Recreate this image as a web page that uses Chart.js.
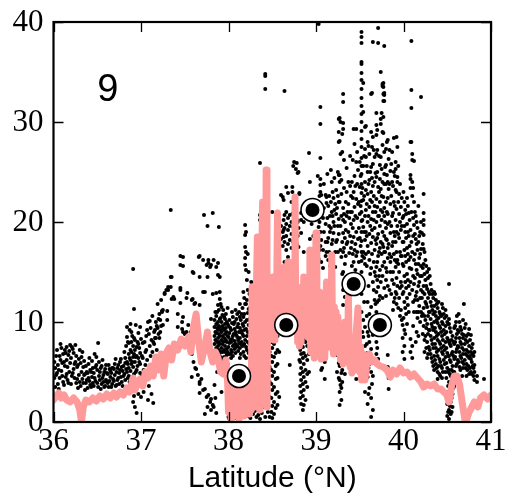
<!DOCTYPE html>
<html>
<head>
<meta charset="utf-8">
<script src="https://cdn.jsdelivr.net/npm/chart.js@4"></script>
<style>
  html, body { margin: 0; padding: 0; background: #fff; }
</style>
</head>
<body>
<canvas id="chart" width="505" height="501"></canvas>
<script>
// axis ticks
const xTicks = [36, 37, 38, 39, 40, 41];
const yTicks = [0, 10, 20, 30, 40];
const panelLabel = "9";

// pink model curve (latitude, value)
const pinkLat = [36.00, 36.03, 36.06, 36.09, 36.12, 36.15, 36.19, 36.23, 36.27, 36.30, 36.32, 36.34, 36.37, 36.41, 36.45, 36.49, 36.53, 36.57, 36.61, 36.65, 36.69, 36.72, 36.76, 36.80, 36.84, 36.87, 36.91, 36.93, 36.96, 36.99, 37.02, 37.05, 37.08, 37.11, 37.14, 37.17, 37.20, 37.23, 37.26, 37.29, 37.32, 37.35, 37.38, 37.42, 37.46, 37.50, 37.54, 37.57, 37.60, 37.63, 37.66, 37.69, 37.72, 37.76, 37.79, 37.82, 37.85, 37.88, 37.91, 37.94, 37.97, 37.99,
  38.00, 38.01, 38.03, 38.04, 38.06, 38.07, 38.09, 38.10, 38.12, 38.13, 38.15, 38.16, 38.18, 38.19, 38.21, 38.22, 38.24, 38.25, 38.26, 38.27, 38.28, 38.29, 38.30, 38.32, 38.33, 38.34, 38.35, 38.36, 38.38, 38.39, 38.40, 38.41, 38.42, 38.43, 38.44,
  38.45, 38.455, 38.46, 38.47, 38.48, 38.49, 38.50, 38.51, 38.52, 38.53, 38.54, 38.55, 38.56, 38.57, 38.58, 38.59, 38.60, 38.61, 38.62, 38.63, 38.64, 38.65, 38.66, 38.67, 38.68, 38.69, 38.70, 38.71, 38.72, 38.73, 38.74, 38.75, 38.76, 38.77, 38.78, 38.79, 38.80, 38.81, 38.82, 38.83, 38.84, 38.85, 38.86, 38.87, 38.88, 38.89, 38.90, 38.91, 38.92, 38.93, 38.94, 38.95, 38.96, 38.97, 38.98, 38.99,
  39.00, 39.01, 39.02, 39.03, 39.04, 39.05, 39.06, 39.07, 39.08, 39.09, 39.10, 39.11, 39.12, 39.13, 39.14, 39.15, 39.16, 39.17, 39.18, 39.19, 39.20, 39.21, 39.22, 39.23, 39.24, 39.25, 39.26, 39.27, 39.28, 39.29, 39.30, 39.31, 39.32, 39.33, 39.34, 39.35, 39.36, 39.37, 39.38, 39.39, 39.40, 39.41, 39.42, 39.43, 39.44, 39.45, 39.46, 39.48, 39.49, 39.50, 39.51, 39.52, 39.54, 39.56, 39.58, 39.61, 39.64, 39.67, 39.70, 39.73, 39.77, 39.81, 39.85, 39.88, 39.92, 39.96,
  40.00, 40.04, 40.08, 40.12, 40.16, 40.20, 40.23, 40.27, 40.31, 40.35, 40.39, 40.43, 40.46, 40.49, 40.52, 40.55, 40.58, 40.61, 40.64, 40.67, 40.70, 40.72, 40.75, 40.78, 40.81, 40.85, 40.88, 40.92, 40.96, 41.00];
const pinkVal = [2.2, 2.6, 2.9, 2.4, 2.7, 2.2, 2.0, 2.4, 2.0, 1.2, 0.0, 1.5, 2.2, 2.0, 2.4, 2.1, 2.6, 2.3, 2.8, 2.4, 2.9, 2.5, 3.0, 2.7, 3.4, 3.0, 4.4, 3.2, 3.8, 4.3, 3.6, 5.0, 4.4, 5.6, 4.6, 6.5, 5.2, 6.8, 4.6, 6.9, 7.4, 6.2, 7.8, 7.2, 8.3, 7.6, 8.5, 7.0, 9.5, 10.8, 8.0, 6.0, 7.2, 9.0, 7.0, 6.0, 7.0, 6.4, 5.0, 4.8, 6.2, 4.0,
  1.0, 4.2, 0.4, 3.8, 0.8, 4.4, 1.5, 3.2, 0.3, 4.0, 1.0, 4.6, 0.6, 3.6, 1.6, 4.4, 0.8, 3.0, 1.2, 13.5, 2.0, 12.8, 1.5, 14.0, 18.5, 2.6, 15.0, 1.2, 16.5, 22.0, 2.5, 17.0, 3.5, 25.2, 1.5,
  14.0, 8.2, 13.0, 9.0, 13.8, 8.5, 12.0, 14.5, 8.2, 12.0, 9.5, 13.0, 20.9, 10.5, 14.0, 11.0, 13.5, 10.0, 14.0, 11.5, 15.5, 10.5, 14.5, 12.0, 16.0, 10.5, 15.0, 11.0, 14.5, 11.5, 15.0, 12.0, 22.5, 9.0, 13.5, 8.0, 12.8, 7.6, 12.5, 8.0, 13.5, 9.0, 14.5, 9.5, 13.0, 10.0, 14.0, 8.5, 12.5, 17.2, 7.0, 11.5, 12.0, 8.0, 6.4, 12.0,
  18.9, 8.0, 12.5, 7.5, 13.0, 8.5, 6.3, 12.0, 8.0, 12.5, 6.4, 11.0, 14.0, 8.0, 11.5, 7.5, 12.0, 9.0, 16.7, 8.0, 6.8, 11.5, 8.0, 11.0, 7.2, 10.5, 7.0, 9.5, 6.2, 9.0, 6.5, 5.8, 9.0, 10.0, 6.5, 9.5, 6.0, 12.5, 7.0, 5.5, 7.5, 4.9, 8.0, 8.5, 6.0, 5.2, 9.0, 11.4, 6.0, 5.0, 7.5, 4.2, 6.8, 4.2, 5.9, 6.8, 6.0, 6.2, 5.8, 5.6, 5.5, 5.2, 4.5, 5.2, 4.8, 5.4,
  4.9, 5.0, 4.5, 4.8, 4.4, 4.0, 3.5, 3.8, 3.6, 3.8, 3.3, 3.3, 3.0, 2.8, 2.0, 3.6, 4.6, 4.6, 3.8, 2.0, 0.3, 0.2, 1.0, 1.5, 2.0, 1.5, 2.4, 2.7, 2.3, 2.7];

// circled stations
const markerLat = [38.12, 38.66, 38.96, 39.43, 39.73];
const markerVal = [4.6, 9.7, 21.2, 13.8, 9.7];

// observed dots, each row: latitude then the values seen at it
const dotsA = [
  [36.02, 5.4, 3.5], [36.03, 4.7, 6.6], [36.05, 5.7, 3.8], [36.07, 6.6, 4.4], [36.09, 7.4, 5.1],
  [36.11, 6.8, 4.0], [36.13, 7.2, 5.6], [36.15, 7.5, 6.2, 4.8], [36.17, 6.7, 3.9], [36.19, 5.9, 7.7],
  [36.21, 7.5, 4.6], [36.23, 6.9, 5.3], [36.25, 7.7, 6.0], [36.27, 4.3, 5.5], [36.28, 5.7, 3.4],
  [36.30, 7.2, 4.0], [36.32, 6.5, 5.0], [36.34, 5.5, 3.9], [36.36, 3.2, 4.8], [36.38, 5.0, 4.2],
  [36.40, 4.4, 5.8], [36.42, 3.7, 5.2], [36.44, 4.5, 6.1], [36.46, 4.9, 3.6], [36.48, 5.5, 4.1],
  [36.49, 6.5, 5.7], [36.51, 7.9, 3.5], [36.53, 4.2, 5.0], [36.55, 3.8, 5.6], [36.57, 4.0, 4.7],
  [36.59, 5.3, 3.6], [36.61, 4.9, 4.0], [36.63, 5.7, 3.5], [36.65, 4.5, 5.1], [36.67, 3.8, 5.4],
  [36.68, 5.4, 4.3], [36.70, 4.7, 5.8], [36.72, 5.0, 3.7], [36.74, 5.7, 4.4], [36.76, 5.2, 6.0],
  [36.78, 4.0, 5.5], [36.80, 5.6, 4.6], [36.82, 5.9, 4.2, 6.4], [36.84, 9.5, 8.5, 6.0, 5.0],
  [36.86, 7.9, 6.8, 5.4, 4.6], [36.88, 7.2, 9.8, 6.2, 5.1], [36.89, 9.0, 8.0, 7.0, 5.8],
  [36.91, 6.5, 15.3, 7.6, 5.5, 2.0], [36.92, 11.3, 8.4, 6.8, 4.8, 2.6], [36.93, 8.2, 7.2, 6.0, 1.5],
  [36.95, 7.5, 6.6, 5.2, 0.9], [36.97, 8.9, 7.8, 6.4, 2.8], [36.99, 9.5, 6.9, 5.8, 4.9],
  [36.01, 4.4, 6.0], [36.04, 7.2, 4.9], [36.06, 5.2, 3.3], [36.08, 6.2, 7.8], [36.10, 4.6, 5.9],
  [36.12, 6.0, 3.7], [36.14, 4.5, 6.9], [36.16, 5.5, 4.2], [36.18, 7.1, 5.0], [36.20, 6.4, 3.8],
  [36.22, 4.9, 7.3], [36.24, 5.8, 4.4], [36.26, 6.6, 3.9], [36.29, 4.7, 6.3], [36.31, 5.9, 3.6],
  [36.33, 4.3, 7.0], [36.35, 6.1, 4.7], [36.37, 3.9, 5.6], [36.39, 4.9, 3.4], [36.41, 6.4, 4.1],
  [36.43, 5.0, 3.5], [36.45, 3.9, 5.4], [36.47, 6.8, 4.4], [36.50, 5.2, 3.9], [36.52, 4.6, 6.0],
  [36.54, 5.4, 3.3], [36.56, 4.4, 6.2], [36.58, 3.5, 5.0], [36.60, 4.2, 5.7], [36.62, 3.9, 4.8],
  [36.64, 5.3, 4.1], [36.66, 3.5, 4.9], [36.69, 4.1, 5.3], [36.71, 3.6, 6.3], [36.73, 5.4, 4.2],
  [36.75, 3.8, 4.9], [36.77, 6.3, 4.5], [36.79, 3.6, 5.1], [36.81, 4.8, 7.0], [36.83, 5.3, 7.6],
  [36.85, 8.0, 5.8, 4.4], [36.87, 9.2, 6.4, 4.0], [36.90, 8.6, 6.0, 4.5], [36.94, 9.7, 6.5, 5.0],
  [36.96, 8.0, 5.6], [36.98, 7.4, 6.0, 3.8]
];
const dotsB = [
  [37.00, 2.5, 8.3], [37.02, 7.9, 6.4], [37.03, 3.0, 5.2], [37.05, 5.7, 7.0], [37.06, 7.2, 8.6],
  [37.08, 10.0, 2.2], [37.10, 10.1, 7.6], [37.12, 8.2, 2.8], [37.14, 8.0, 1.9], [37.16, 8.4, 9.2],
  [37.18, 9.6, 7.2], [37.20, 10.3, 8.8], [37.22, 10.2, 9.0], [37.24, 11.0, 11.1], [37.25, 11.2, 9.7],
  [37.27, 12.9, 12.8], [37.29, 13.2], [37.30, 11.1, 10.2], [37.31, 13.5, 13.2], [37.34, 21.2, 14.5, 13.5],
  [37.35, 14.5, 12.3], [37.37, 12.5], [37.38, 12.3], [37.42, 10.8, 9.5], [37.45, 15.7, 16.6, 13.4, 13.2, 11.9],
  [37.47, 10.0, 9.3], [37.48, 16.5, 15.6, 10.5, 9.0], [37.50, 8.8], [37.52, 9.0, 12.4], [37.53, 12.9],
  [37.54, 9.7], [37.57, 9.0, 7.4], [37.58, 12.2, 6.8, 4.5], [37.59, 15.0, 12.3], [37.60, 14.9, 6.0],
  [37.61, 11.8], [37.62, 11.9, 5.4], [37.63, 5.3], [37.65, 4.7], [37.66, 16.5],
  [37.67, 16.6, 14.5, 11.7, 4.0, 3.8, 2.9], [37.69, 4.3], [37.71, 16.2, 13.0, 3.2], [37.72, 20.7],
  [37.73, 13.0, 3.3, 0.8], [37.75, 15.7, 2.5], [37.76, 19.6, 14.5, 1.5], [37.77, 16.2, 15.9, 2.7],
  [37.79, 15.5, 2.0], [37.80, 15.7, 10.3, 2.3, 1.2], [37.82, 20.9, 12.8, 1.7], [37.83, 16.2, 1.5],
  [37.84, 10.2, 9.5, 8.6, 7.8, 3.7], [37.85, 11.0, 9.0, 8.2, 7.0, 6.2, 2.4],
  [37.86, 15.5, 12.9, 10.6, 9.8, 8.9, 7.4, 6.6, 0.9], [37.88, 15.9, 14.7, 11.7, 10.0, 9.2, 8.4, 7.6, 6.8, 5.8],
  [37.89, 19.5, 11.2, 9.6, 8.8, 8.0, 7.2, 6.2], [37.90, 14.5, 13.0, 12.3, 10.3, 9.4, 8.6, 7.8, 6.6, 5.2],
  [37.92, 11.5, 10.0, 9.0, 8.2, 7.4, 6.4, 3.0], [37.93, 10.7, 9.6, 8.6, 7.8, 7.0, 6.0],
  [37.95, 10.5, 9.2, 8.4, 7.2, 6.5], [37.96, 10.3, 9.8, 8.8, 7.6, 7.0, 5.5], [37.98, 10.0, 9.0, 8.0, 7.3, 6.7],
  [37.87, 11.0, 9.4, 8.0, 6.4, 5.0], [37.91, 11.8, 10.4, 9.2, 7.0, 5.8], [37.94, 11.2, 9.4, 8.0, 6.2, 5.4],
  [37.97, 10.8, 9.4, 8.2, 6.2], [37.99, 11.4, 9.8, 8.6, 7.0, 5.8],
  [37.01, 6.6, 4.6], [37.04, 8.0, 4.0], [37.07, 6.2, 9.2], [37.09, 8.8, 3.6], [37.11, 9.4, 6.6],
  [37.13, 7.0, 10.6], [37.15, 9.0, 7.8], [37.17, 10.0, 8.4], [37.19, 9.4, 11.8], [37.21, 10.8, 8.4],
  [37.23, 9.6, 12.2]
];
const dotsC = [
  [38.00, 9.6, 8.5, 7.5, 6.8, 1.2, 0.5], [38.01, 10.2, 8.9, 7.9, 2.8, 1.8, 0.3],
  [38.03, 9.2, 8.0, 7.2, 6.4, 2.0, 1.0, 0.2], [38.04, 11.0, 9.9, 8.3, 7.0, 1.4],
  [38.05, 10.5, 8.6, 7.6, 6.6, 1.5, 0.6], [38.07, 10.0, 9.3, 8.1, 7.3, 2.3, 0.9],
  [38.08, 11.2, 9.0, 7.8, 6.9, 0.4], [38.09, 10.3, 8.7, 7.5, 1.9, 1.1], [38.11, 9.8, 8.2, 7.1, 0.7],
  [38.13, 11.8, 10.5, 9.4, 8.4, 7.4, 6.4, 2.1, 0.3], [38.15, 10.8, 9.1, 8.0, 1.6, 0.8],
  [38.17, 13.0, 10.5, 9.6, 8.6, 7.0], [38.19, 19.7, 18.7, 17.5, 16.4, 15.7, 11.8, 10.0, 8.2],
  [38.20, 19.0, 17.0, 15.2, 11.8, 9.3, 7.5, 6.4], [38.22, 16.8, 13.2, 10.9, 9.0, 8.0, 1.3],
  [38.23, 15.0, 11.3, 9.7, 6.9, 0.6], [38.25, 11.5, 10.4, 8.8, 2.2, 0.4], [38.26, 14.0, 1.0],
  [38.28, 10.0, 0.8], [38.30, 2.3, 1.1], [38.32, 0.5], [38.34, 16.7, 2.0, 0.7],
  [38.36, 25.9, 20.7, 20.2, 18.0, 1.2, 0.3], [38.38, 2.2, 0.9], [38.40, 1.5],
  [38.42, 34.8, 34.6, 33.3, 1.8, 0.5], [38.45, 1.0, 2.1], [38.47, 7.0, 5.5, 4.0, 2.5, 0.5],
  [38.49, 9.3, 8.0, 6.6, 5.2, 3.8, 2.4, 1.0],
  [38.02, 9.4, 8.2, 6.8, 1.4, 0.4], [38.06, 9.8, 8.8, 7.7, 2.6, 1.2], [38.10, 10.8, 9.5, 8.5, 7.6, 1.5, 0.5],
  [38.12, 11.0, 9.0, 7.9, 1.2], [38.14, 10.2, 9.0, 7.8, 6.8, 2.4], [38.16, 11.4, 9.8, 8.8, 7.6, 1.0],
  [38.18, 12.4, 10.8, 9.2, 7.8, 6.6], [38.21, 14.2, 12.2, 10.2, 8.6, 7.2], [38.24, 12.8, 10.2, 9.0, 7.8]
];
const dotsD = [
  [38.50, 21.0, 8.8, 7.4, 6.0, 4.6, 3.2, 1.6, 0.4], [38.52, 9.0, 7.8, 6.5, 5.0, 3.5, 2.0, 0.8],
  [38.54, 9.5, 8.2, 6.9, 5.6, 4.3, 2.8, 1.4], [38.56, 8.6, 7.2, 5.8, 4.4, 3.0, 1.7],
  [38.58, 20.0, 19.2, 7.0, 2.5], [38.60, 22.7, 19.6, 18.3], [38.62, 22.5, 19.0, 17.6],
  [38.63, 22.2, 20.2, 19.2, 18.5], [38.64, 33.1, 20.7, 19.4, 18.0, 16.0],
  [38.66, 23.5, 21.0, 19.8, 18.6, 17.2, 15.5], [38.68, 22.9, 20.4, 19.2, 17.8, 16.5],
  [38.70, 20.7, 19.6, 18.2, 5.7], [38.72, 22.0, 20.0, 18.8, 17.4, 15.8], [38.73, 23.5, 23.0, 20.8],
  [38.74, 25.6, 19.5, 18.0], [38.75, 26.0, 20.3, 17.0], [38.77, 25.3, 19.0, 16.4],
  [38.78, 25.9, 20.2, 17.8], [38.79, 24.9, 20.0, 18.6], [38.80, 25.0, 19.4, 17.5],
  [38.81, 22.8, 22.9, 9.0, 7.8, 6.2], [38.82, 8.4, 7.2, 6.0, 4.8, 3.6, 2.4],
  [38.83, 20.9, 20.2, 18.9, 9.2, 8.0, 6.8, 5.4, 4.2, 3.0, 1.8], [38.85, 8.6, 7.5, 6.4, 5.0, 3.8, 2.6, 1.2],
  [38.86, 20.0, 17.0, 8.2, 6.9, 5.8, 4.5, 3.2, 1.7], [38.88, 8.0, 6.6, 5.2, 4.0, 2.2],
  [38.90, 7.6, 6.2, 4.8, 3.5], [38.92, 26.9, 6.8, 5.0], [38.93, 24.0, 20.5, 18.3],
  [38.95, 22.0, 19.8], [38.97, 20.9, 18.6]
];
const dotsE = [
  [39.01, 17.0, 15.8], [39.03, 39.8, 19.5, 16.3],
  [39.05, 31.5, 29.8, 26.4, 24.3, 23.7, 23.0, 21.0, 19.0, 17.6], [39.06, 22.7, 18.2, 16.0, 5.2],
  [39.07, 8.0, 6.6, 5.4], [39.08, 20.4, 17.2, 15.4], [39.10, 7.6, 6.0, 4.3], [39.11, 22.7, 19.8, 18.0, 16.6],
  [39.12, 22.5, 21.9, 17.0], [39.14, 21.6, 18.4, 16.2], [39.16, 20.6, 19.0, 15.6], [39.18, 24.0, 21.0, 17.8],
  [39.20, 22.4, 20.0, 18.9], [39.22, 21.8, 17.0, 15.5], [39.24, 21.4, 18.2, 6.7, 5.0],
  [39.26, 30.3, 29.0, 28.0, 24.7, 22.0, 20.3, 18.8, 7.2, 5.9, 4.4], [39.27, 30.4, 28.1, 24.7, 24.0, 22.0, 8.2, 6.8, 5.6, 4.2, 3.0, 1.7],
  [39.28, 30.0, 26.8, 19.6, 17.2, 6.4, 3.7], [39.29, 24.2, 22.8, 20.6, 16.5, 7.6, 6.2, 4.9, 3.4, 2.2],
  [39.30, 28.8, 27.0, 18.0, 14.8, 5.2, 4.0], [39.31, 32.8, 32.0, 29.9, 29.3, 21.4, 20.2, 18.9, 17.0, 15.0, 13.2, 11.7],
  [39.33, 20.0, 18.4, 15.8, 12.5, 7.0, 4.8], [39.34, 22.0, 19.2, 16.6], [39.36, 21.0, 18.0, 14.4],
  [39.38, 20.4, 16.9, 13.0], [39.40, 22.6, 19.8, 17.4], [39.43, 29.3, 23.0, 20.2, 18.5, 16.0],
  [39.44, 27.8, 24.6, 21.5, 17.2], [39.46, 29.3, 26.0, 22.3, 19.0, 16.6, 4.3], [39.48, 25.2, 21.8, 18.3],
  [39.02, 24.6, 21.0, 18.6], [39.04, 22.6, 20.0, 17.2], [39.09, 23.8, 21.4, 19.0], [39.13, 24.8, 20.4, 18.0],
  [39.15, 22.6, 19.6, 17.0], [39.17, 25.2, 22.0, 19.4], [39.19, 23.0, 20.6, 18.2], [39.21, 24.4, 21.2, 19.6],
  [39.23, 23.2, 20.8, 18.0], [39.25, 25.0, 22.6, 19.6, 17.0], [39.32, 26.2, 23.4, 20.8, 17.4],
  [39.35, 25.4, 23.0, 20.6, 17.8], [39.37, 24.0, 21.8, 19.0], [39.39, 26.6, 23.6, 21.0, 18.6],
  [39.41, 24.0, 21.0, 18.0, 15.6], [39.42, 26.2, 22.4, 19.4, 16.8], [39.45, 23.6, 20.6, 17.8, 15.2],
  [39.47, 27.0, 23.8, 20.4, 17.0], [39.49, 22.0, 19.4, 16.0]
];
const dotsF = [
  [39.50, 26.0, 23.5, 20.8, 18.4, 7.0, 5.0],
  [39.52, 39.0, 38.5, 37.9, 36.0, 35.8, 34.9, 34.2, 33.3, 32.4, 31.6, 30.8, 30.0, 29.1, 28.3, 27.5, 26.4, 25.6, 24.8, 23.8, 22.9, 22.1, 21.0, 20.1, 19.0, 18.1, 17.0, 16.1, 15.0, 12.8, 11.0],
  [39.54, 33.9, 31.0, 25.6, 22.2, 19.5, 17.0, 13.4, 10.2, 8.5, 6.4], [39.56, 29.5, 27.3, 24.0, 20.6, 18.2, 15.8, 9.5, 7.6, 5.2, 3.0],
  [39.57, 29.6, 26.5, 23.2, 21.2, 19.0, 16.8], [39.59, 28.0, 25.0, 22.8, 20.0, 17.6, 12.0, 9.0, 6.9, 4.5, 1.8],
  [39.61, 26.8, 24.2, 21.5, 18.8, 16.2, 10.8, 8.0, 5.8, 3.4],
  [39.63, 32.8, 29.0, 25.5, 23.0, 20.3, 17.9, 15.4, 11.5, 7.3, 5.0, 2.4, 0.5],
  [39.64, 32.9, 27.5, 24.4, 22.0, 19.2, 16.8, 9.4, 6.2, 3.8], [39.65, 38.0, 28.5, 25.8, 23.6, 21.0, 18.5, 14.0, 8.7, 4.6, 1.2],
  [39.67, 26.5, 24.0, 21.6, 19.4, 17.2, 15.0, 12.2],
  [39.69, 30.9, 29.7, 28.7, 26.8, 24.5, 22.3, 20.0, 17.8, 15.5, 13.0, 11.0, 8.0, 6.8],
  [39.70, 29.2, 27.2, 25.0, 21.5, 18.4, 16.0, 14.2, 12.0, 7.4], [39.71, 39.4, 37.9, 23.5, 20.6, 18.8, 16.6, 13.5, 6.3],
  [39.73, 25.7, 24.3, 22.0, 19.6, 17.4, 15.2, 12.6], [39.74, 35.0, 30.3, 29.8, 26.5, 23.3, 21.2, 18.0, 14.0],
  [39.75, 30.9, 25.3, 22.6, 20.2, 16.8], [39.76, 33.8, 33.6, 29.0, 24.0, 19.0, 15.6],
  [39.77, 33.9, 33.5, 32.8, 32.1, 30.5, 28.9, 22.5, 17.5], [39.78, 37.6, 32.9, 32.7, 32.1, 27.0, 24.8, 21.4, 18.6, 16.0],
  [39.79, 25.5, 20.0, 17.0], [39.80, 27.3, 23.8, 19.4, 15.4], [39.81, 28.0, 24.7, 21.0, 18.2, 15.0],
  [39.82, 28.2, 22.4, 19.8, 16.4, 6.7, 5.5], [39.83, 26.3, 23.3, 17.8, 4.4, 3.3], [39.85, 25.1, 21.8, 18.9, 16.0, 15.0],
  [39.87, 27.0, 24.0, 20.6, 17.6, 14.2], [39.89, 28.4, 25.0, 22.0, 19.0, 16.8, 13.8, 12.0],
  [39.91, 26.0, 25.3, 23.2, 20.2, 18.0, 15.5, 13.0], [39.92, 28.5, 21.3, 17.0, 14.4, 11.8],
  [39.93, 27.5, 24.5, 24.0, 19.6, 16.2, 13.6], [39.95, 22.8, 20.8, 18.4, 15.0, 12.4],
  [39.97, 21.5, 19.2, 16.6, 14.0, 11.2], [39.99, 20.4, 18.0, 15.8, 12.8, 9.7, 8.4, 7.0],
  [39.51, 24.6, 21.6, 17.6, 14.4], [39.53, 23.4, 20.2, 16.6, 9.0, 5.8], [39.55, 26.6, 22.6, 19.0, 16.4, 12.0],
  [39.58, 25.6, 21.8, 18.6, 15.6, 10.6, 7.8], [39.60, 27.6, 23.8, 20.6, 17.0, 13.6, 8.6, 5.4, 2.8],
  [39.62, 25.0, 22.2, 19.6, 14.8, 9.8, 6.6], [39.66, 27.2, 22.6, 20.2, 16.0, 13.2],
  [39.68, 24.9, 21.0, 18.2, 14.6, 11.8, 9.6], [39.72, 26.6, 23.0, 20.6, 17.0, 14.6, 12.2, 9.0],
  [39.76, 27.7, 21.0, 17.8, 14.6, 12.4], [39.78, 23.8, 20.6, 17.0, 13.4], [39.80, 25.7, 22.0, 18.3, 14.2, 12.6],
  [39.82, 24.0, 20.8, 17.4, 13.6], [39.84, 27.2, 23.8, 20.0, 16.8, 13.2], [39.86, 25.8, 22.6, 19.6, 16.5, 12.8],
  [39.88, 23.6, 20.9, 18.0, 15.0, 11.2], [39.90, 24.6, 21.6, 18.6, 16.2, 12.4], [39.92, 23.0, 19.0, 16.0, 12.8],
  [39.94, 25.6, 22.0, 18.8, 15.8, 11.4], [39.96, 23.8, 20.0, 17.0, 13.4, 10.6], [39.98, 22.4, 19.6, 16.6, 13.6, 10.2]
];
const dotsG = [
  [40.01, 22.0, 19.6, 17.2, 14.6, 12.0, 9.2, 7.6, 6.3], [40.03, 20.8, 18.4, 16.0, 13.4, 10.8],
  [40.05, 21.6, 19.0, 16.8, 14.2, 11.7], [40.07, 20.2, 17.6, 15.4, 12.8],
  [40.08, 28.0, 24.7, 24.3, 23.4, 19.2, 16.5, 14.0, 8.3, 7.0], [40.09, 38.1, 33.2, 31.4, 28.0, 21.0, 18.0, 15.3],
  [40.10, 26.8, 26.2, 24.0, 22.6, 17.0, 13.2, 7.6, 6.4], [40.12, 26.1, 22.0, 19.7, 16.2, 13.8, 11.0],
  [40.14, 20.6, 18.3, 15.8, 12.6, 8.0], [40.16, 19.4, 17.2, 14.8, 12.2, 10.4], [40.18, 18.6, 16.4, 14.0, 11.6],
  [40.20, 32.5, 20.0, 17.3, 15.6, 13.2, 11.0], [40.21, 18.9, 14.6, 12.4, 10.6],
  [40.23, 22.8, 20.9, 20.2, 19.7, 18.7, 17.3, 15.8, 13.6, 11.4, 9.6], [40.25, 16.2, 14.2, 12.0, 10.2, 8.6],
  [40.27, 15.0, 13.3, 11.5, 9.8, 8.0, 6.4], [40.29, 15.3, 13.0, 11.0, 9.2, 7.5], [40.31, 13.8, 12.0, 10.3, 8.6, 6.8],
  [40.33, 12.8, 11.2, 9.5, 7.8, 6.0], [40.35, 13.0, 11.6, 10.0, 8.4, 6.6, 5.2], [40.37, 12.2, 10.6, 9.0, 7.4, 5.8],
  [40.39, 11.4, 9.9, 8.2, 6.6, 5.0, 4.3], [40.41, 11.0, 9.6, 8.0, 6.3, 4.8], [40.43, 10.6, 9.0, 7.4, 5.6],
  [40.44, 11.8, 10.0, 8.6, 7.0, 5.4, 4.4], [40.46, 10.8, 9.2, 7.6, 6.2], [40.48, 11.2, 9.6, 8.0, 6.5, 5.0],
  [40.50, 10.0, 8.4, 6.9, 5.4, 3.0, 1.8, 0.6], [40.52, 13.8, 10.3, 9.8, 8.0, 6.6, 5.2, 4.0, 2.4, 1.2, 0.3],
  [40.54, 9.0, 7.6, 6.0, 4.6, 3.4, 2.0, 0.8], [40.56, 8.6, 7.0, 5.6, 4.2, 2.8, 1.5], [40.58, 9.4, 7.8, 6.3, 5.0, 3.6],
  [40.60, 10.0, 8.4, 7.0, 5.6], [40.62, 9.2, 7.6, 6.2], [40.63, 10.8, 9.0, 7.5, 6.0], [40.65, 9.5, 8.0, 6.6, 5.2],
  [40.67, 8.8, 7.4, 6.0, 4.6], [40.69, 11.8, 8.7, 7.2, 5.8], [40.71, 9.8, 8.2, 6.8, 5.4], [40.73, 8.0, 6.6, 5.2],
  [40.75, 9.3, 7.6, 6.4, 4.8], [40.77, 8.7, 7.0, 6.3, 5.0], [40.79, 7.8, 6.8, 5.6], [40.81, 7.0, 5.7, 5.0, 4.2],
  [40.84, 4.0, 4.6], [40.92, 4.3],
  [40.00, 23.0, 20.6, 18.0, 15.6, 13.0, 10.4], [40.02, 21.2, 19.0, 16.6, 14.0, 11.4, 8.8],
  [40.04, 22.4, 19.8, 17.4, 14.8, 12.4, 9.8], [40.06, 20.9, 18.6, 16.2, 13.6, 11.0],
  [40.11, 23.4, 20.4, 18.6, 14.6, 12.0, 9.6], [40.13, 21.0, 18.8, 16.8, 14.4, 12.2],
  [40.15, 20.0, 17.8, 15.2, 13.0, 11.0, 9.0], [40.17, 21.6, 18.0, 15.8, 13.6, 11.0, 8.6],
  [40.19, 19.0, 16.8, 14.6, 12.4, 10.0], [40.22, 17.8, 15.4, 13.0, 10.8, 8.8],
  [40.24, 17.0, 14.8, 12.8, 10.6, 8.2, 7.0], [40.26, 15.6, 13.6, 11.8, 9.4, 7.4],
  [40.28, 14.4, 12.4, 10.6, 8.8, 6.8], [40.30, 14.6, 12.8, 11.0, 9.2, 7.2], [40.32, 13.2, 11.6, 9.8, 8.2, 6.4],
  [40.34, 12.4, 10.8, 9.2, 7.4, 5.6], [40.36, 12.8, 11.0, 9.4, 7.8, 6.2], [40.38, 11.8, 10.2, 8.6, 7.0, 5.4],
  [40.40, 12.0, 10.4, 8.8, 7.2, 5.6], [40.42, 10.8, 9.4, 7.8, 6.0, 4.6], [40.45, 11.4, 9.8, 8.2, 6.8, 5.0],
  [40.47, 10.4, 8.8, 7.2, 5.8], [40.49, 10.6, 9.0, 7.4, 5.9, 4.4], [40.51, 9.8, 8.2, 6.6, 5.0, 3.6, 2.2, 1.0],
  [40.53, 9.4, 7.8, 6.2, 4.8, 3.2, 1.6], [40.55, 8.2, 6.8, 5.2, 3.8, 2.4, 1.0], [40.57, 8.0, 6.6, 5.0, 3.4],
  [40.59, 9.6, 8.0, 6.5], [40.61, 10.6, 8.8, 7.3, 5.8], [40.64, 10.0, 8.4, 7.0, 5.5], [40.66, 9.2, 7.8, 6.4],
  [40.68, 10.2, 8.4, 6.8, 5.4], [40.70, 9.4, 7.8, 6.2], [40.72, 8.6, 7.2, 5.8, 4.6], [40.74, 8.8, 7.0, 5.6],
  [40.76, 8.2, 6.6, 5.4], [40.78, 7.4, 6.0, 4.8], [40.80, 6.6, 5.4, 4.6]
];

// turn rows of [lat, v1, v2...] into points
function columnsToPoints(cols) {
  let pts = [];
  cols.forEach(function (col) {
    for (let i = 1; i < col.length; i++) {
      pts.push({ x: col[0], y: col[i] });
    }
  });
  return pts;
}

function pairUp(xs, ys) {
  return xs.map(function (x, i) { return { x: x, y: ys[i] }; });
}

const dotPoints = [dotsA, dotsB, dotsC, dotsD, dotsE, dotsF, dotsG].flatMap(columnsToPoints);
const pinkPoints = pairUp(pinkLat, pinkVal);
const markerPoints = pairUp(markerLat, markerVal);

const serif = "'Liberation Serif', 'DejaVu Serif', serif";

// frame, inward ticks, tick labels and the panel number
const framePlugin = {
  id: "frame",
  afterDraw(chart) {
    const c = chart.ctx;
    const a = chart.chartArea;
    const sx = chart.scales.x;
    const sy = chart.scales.y;
    c.save();
    c.strokeStyle = "#000";
    c.lineWidth = 1.3;
    c.beginPath();
    xTicks.forEach(function (v) {
      const px = Math.round(sx.getPixelForValue(v)) + 0.5;
      c.moveTo(px, a.bottom); c.lineTo(px, a.bottom - 10);
      c.moveTo(px, a.top); c.lineTo(px, a.top + 10);
    });
    yTicks.forEach(function (v) {
      const py = Math.round(sy.getPixelForValue(v)) + 0.5;
      c.moveTo(a.left, py); c.lineTo(a.left + 10, py);
      c.moveTo(a.right, py); c.lineTo(a.right - 10, py);
    });
    c.stroke();
    c.lineWidth = 2.2;
    c.strokeRect(a.left, a.top, a.right - a.left, a.bottom - a.top);

    c.fillStyle = "#000";
    c.font = "31px " + serif;
    c.textAlign = "center";
    c.textBaseline = "middle";
    xTicks.forEach(function (v) {
      c.fillText(String(v), sx.getPixelForValue(v), a.bottom + 20);
    });
    c.textAlign = "right";
    yTicks.forEach(function (v) {
      c.fillText(String(v), a.left - 10, sy.getPixelForValue(v) + 1);
    });

    c.font = "38px 'Liberation Sans'";
    c.textAlign = "center";
    c.fillText(panelLabel, sx.getPixelForValue(36.62), sy.getPixelForValue(33.1));
    c.restore();
  }
};

const ctx = document.getElementById("chart").getContext("2d");
new Chart(ctx, {
  type: "scatter",
  data: {
    datasets: [
      { data: markerPoints, pointRadius: 7, backgroundColor: "#000", borderWidth: 0, order: 1 },
      { data: markerPoints, pointRadius: 11.5, backgroundColor: "#fff", borderColor: "#000", borderWidth: 1.6, order: 2 },
      { data: pinkPoints, showLine: true, borderColor: "#ff9a9a", borderWidth: 7, pointRadius: 0,
        borderJoinStyle: "round", borderCapStyle: "round", clip: 0, order: 3 },
      { data: dotPoints, pointRadius: 2, backgroundColor: "#000", borderWidth: 0, order: 4 }
    ]
  },
  options: {
    responsive: false,
    animation: false,
    devicePixelRatio: 1,
    events: [],
    layout: { padding: { top: 22, right: 14, left: 0, bottom: 0 } },
    plugins: { legend: { display: false }, tooltip: { enabled: false } },
    scales: {
      x: {
        type: "linear", min: 36, max: 41,
        afterBuildTicks: function (s) { s.ticks = xTicks.map(function (v) { return { value: v }; }); },
        afterFit: function (s) { s.height = 79; },
        grid: { display: false, drawTicks: false },
        border: { display: false },
        ticks: { display: false },
        title: { display: true, text: "Latitude (°N)", color: "#000", font: { family: "Liberation Sans", size: 30 }, padding: { top: 0, bottom: 4 } }
      },
      y: {
        type: "linear", min: 0, max: 40,
        afterBuildTicks: function (s) { s.ticks = yTicks.map(function (v) { return { value: v }; }); },
        afterFit: function (s) { s.width = 53.5; },
        grid: { display: false, drawTicks: false },
        border: { display: false },
        ticks: { display: false }
      }
    }
  },
  plugins: [framePlugin]
});
</script>
</body>
</html>
